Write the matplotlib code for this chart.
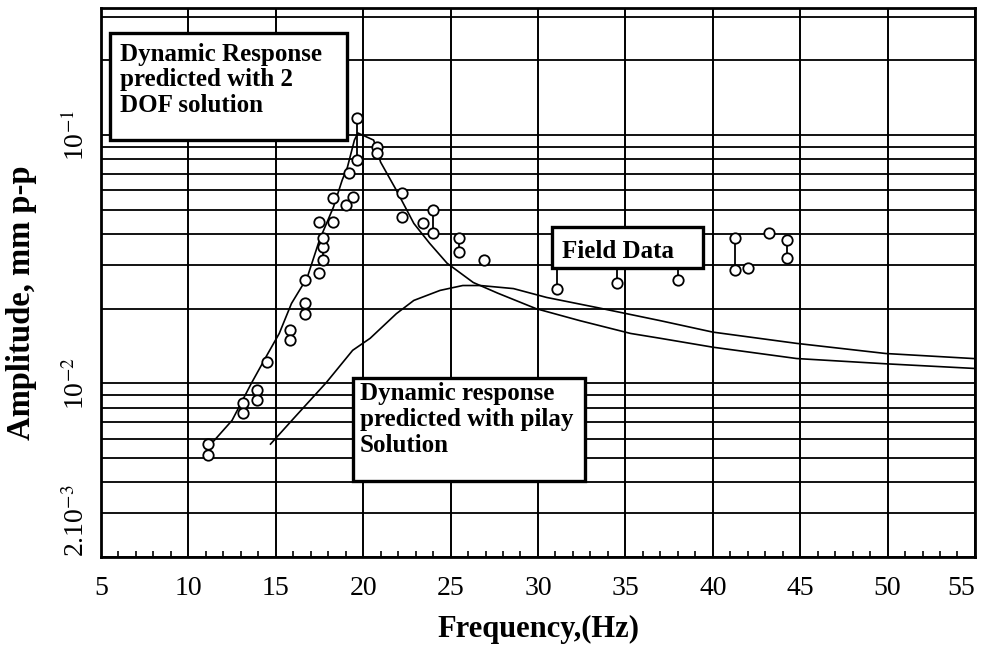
import matplotlib.pyplot as plt
import numpy as np
from matplotlib.patches import Rectangle
from matplotlib.ticker import FixedLocator, LogLocator, NullFormatter, MultipleLocator

plt.rcParams['font.family'] = ['Liberation Serif', 'DejaVu Serif']
plt.rcParams['mathtext.fontset'] = 'stix'

# 2 DOF solution
dof_f = [11.1, 12.5, 13.6, 14.55, 15.2, 15.9, 16.8, 17.5, 18.3, 18.8, 19.1, 19.5, 19.7,
         20.6, 21.0, 21.9, 22.9, 23.8, 24.8, 26.3, 27.7, 29.9, 32.4, 35.3, 37.0, 40.0,
         44.8, 49.9, 54.9]
dof_amp = [0.0055, 0.0071, 0.0100, 0.0132, 0.0159, 0.0210, 0.0267, 0.0378, 0.0513, 0.0659,
           0.0743, 0.0955, 0.102, 0.0955, 0.0778, 0.060, 0.0441, 0.0367, 0.0305, 0.0255,
           0.0231, 0.0200, 0.0179, 0.0159, 0.0152, 0.0140, 0.0126, 0.0120, 0.0115]

# pilay solution
pil_f = [14.7, 16.0, 17.9, 19.4, 20.4, 21.9, 22.9, 24.4, 25.7, 26.7, 28.6, 30.5, 33.4,
         37.0, 40.0, 44.8, 49.9, 54.9]
pil_amp = [0.0057, 0.0072, 0.0101, 0.0136, 0.0152, 0.0191, 0.0216, 0.0237, 0.0248, 0.0248,
           0.0241, 0.0222, 0.0202, 0.0179, 0.0161, 0.0145, 0.0132, 0.0126]

# field data points
fld_f = [11.1, 11.1, 13.1, 13.1, 13.9, 13.9, 14.5, 15.8, 15.8, 16.7, 16.7, 16.7,
         17.5, 17.7, 17.7, 17.7, 17.5, 18.3, 18.3, 19.0, 19.4, 19.2, 19.65, 19.65,
         20.8, 20.8, 22.2, 22.2, 23.4, 24.0, 24.0, 25.5, 25.5, 26.9,
         31.1, 31.1, 34.5, 34.5, 38.0, 38.0, 41.3, 41.3, 42.0, 43.2, 44.25, 44.25]
fld_amp = [0.00573, 0.00513, 0.00838, 0.00763, 0.00937, 0.00854, 0.0122, 0.0164, 0.0149,
           0.0260, 0.0210, 0.0191, 0.0278, 0.0313, 0.0353, 0.0384, 0.0446, 0.0446,
           0.0557, 0.0522, 0.0562, 0.0703, 0.0792, 0.117, 0.0895, 0.0850, 0.0583,
           0.0467, 0.0441, 0.0499, 0.0403, 0.0384, 0.0337, 0.0313,
           0.0334, 0.0241, 0.0319, 0.0253, 0.0337, 0.0260, 0.0384, 0.0286, 0.0291,
           0.0403, 0.0378, 0.0319]

# vertical bars joining paired readings
bar_f = [13.1, 15.8, 17.7, 19.65, 24.0, 25.5, 31.1, 34.5, 38.0, 41.3, 44.25]
bar_lo = [0.00763, 0.0149, 0.0313, 0.0792, 0.0403, 0.0337, 0.0241, 0.0253, 0.0260, 0.0286, 0.0319]
bar_hi = [0.00838, 0.0164, 0.0384, 0.117, 0.0499, 0.0384, 0.0334, 0.0319, 0.0337, 0.0384, 0.0378]

x_ticks = [5, 10, 15, 20, 25, 30, 35, 40, 45, 50, 55]
y_ticks = [2e-3, 1e-2, 1e-1]
y_labels = [r'2.10$^{-3}$', r'10$^{-2}$', r'10$^{-1}$']

fig = plt.figure(figsize=(9.84, 6.48), dpi=100)
ax = fig.add_axes([0.1026, 0.1404, 0.8882, 0.8472])
ax.set_yscale('log')
ax.set_xlim(5, 55)
ax.set_ylim(2e-3, 0.325)

ax.set_xticks(x_ticks)
ax.xaxis.set_minor_locator(MultipleLocator(1))
ax.yaxis.set_major_locator(FixedLocator(y_ticks))
ax.set_yticklabels(y_labels)
ax.yaxis.set_minor_locator(LogLocator(base=10, subs=np.arange(2, 10)))
ax.yaxis.set_minor_formatter(NullFormatter())

ax.grid(True, which='major', axis='x', color='k', lw=1.4)
ax.grid(True, which='both', axis='y', color='k', lw=1.3)
ax.set_axisbelow(True)

ax.tick_params(axis='both', which='major', length=0, labelsize=20)
ax.tick_params(axis='x', which='major', pad=14)
ax.tick_params(axis='x', which='minor', direction='in', length=4, width=1.2)
ax.tick_params(axis='y', which='minor', length=0)
ax.tick_params(axis='y', which='major', pad=8)
for lab in ax.get_yticklabels():
    lab.set_rotation(90)
    lab.set_va('center')
ax.get_yticklabels()[0].set_va('bottom')
ax.get_xticklabels()[-1].set_ha('right')

for s in ax.spines.values():
    s.set_linewidth(2)

ax.plot(dof_f, dof_amp, color='k', lw=1.2)
ax.plot(pil_f, pil_amp, color='k', lw=1.2)
ax.vlines(bar_f, bar_lo, bar_hi, color='k', lw=1.3)
ax.plot(fld_f, fld_amp, 'o', ms=7.5, mfc='white', mec='k', mew=1.3)

ax.set_xlabel('Frequency,(Hz)', fontsize=22, fontweight='bold', labelpad=10)
ax.set_ylabel('Amplitude, mm p-p', fontsize=23.5, fontweight='bold')
ax.yaxis.set_label_coords(-0.073, 0.464)

# annotation boxes
boxes = [(0.0103, 0.7596, 0.2712, 0.1949),
         (0.516, 0.5264, 0.1728, 0.0747),
         (0.2883, 0.1384, 0.2655, 0.1876)]
for x0, y0, w, h in boxes:
    ax.add_patch(Rectangle((x0, y0), w, h, transform=ax.transAxes, fc='white',
                           ec='k', lw=2.4, zorder=5))

ax.text(0.0217, 0.937, 'Dynamic Response\npredicted with 2\nDOF solution',
        transform=ax.transAxes, fontsize=18, fontweight='bold', va='top', ha='left',
        linespacing=1.15, zorder=6)
ax.text(0.5275, 0.556, 'Field Data', transform=ax.transAxes, fontsize=18,
        fontweight='bold', va='center', ha='left', zorder=6)
ax.text(0.2963, 0.318, 'Dynamic response\npredicted with pilay\nSolution',
        transform=ax.transAxes, fontsize=18, fontweight='bold', va='top', ha='left',
        linespacing=1.15, zorder=6)

plt.savefig('out.png', dpi=100)
